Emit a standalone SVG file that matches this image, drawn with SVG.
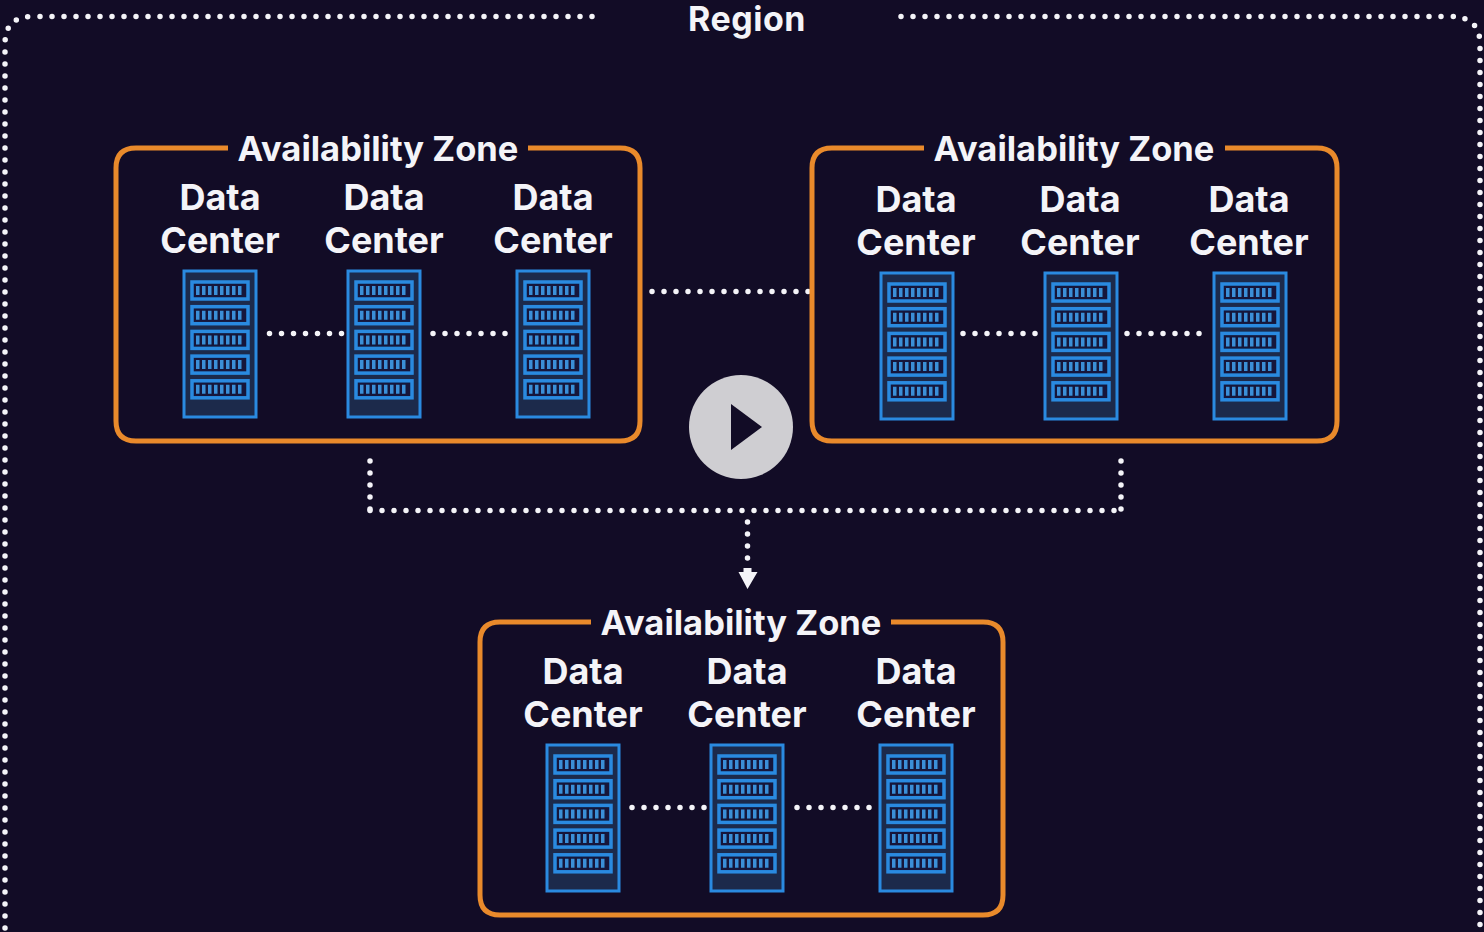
<svg xmlns="http://www.w3.org/2000/svg" width="1484" height="932" viewBox="0 0 1484 932">
<style>
.t{font-family:"Inter","Noto Sans",sans-serif;font-weight:700;fill:#f4f4f8;text-anchor:middle}
.az{font-size:34.500px}
.dc{font-size:36px}
.box{fill:none;stroke:#e98a2b;stroke-width:5;stroke-linecap:butt}
.dot{fill:none;stroke:#f4f4f8;stroke-width:5.500;stroke-linecap:round;stroke-dasharray:0 12}
.body{fill:#1a2a4c;stroke:#2a8ae0;stroke-width:3}
.slot{fill:#12183a;stroke:#2a8ae0;stroke-width:3.500}
.tick{fill:none;stroke:#3a8fd8;stroke-width:9;stroke-dasharray:3.500 2.500}
</style>
<defs>
<filter id="soft" x="-5%" y="-5%" width="110%" height="110%"><feGaussianBlur stdDeviation="0.5"/></filter>
<g id="rack" filter="url(#soft)">
<rect class="body" x="1" y="0" width="72" height="146"/>
<g id="s"><rect class="slot" x="9" y="11" width="56" height="17"/><path class="tick" d="M13 19.500H61"/></g>
<use href="#s" y="24.700"/><use href="#s" y="49.400"/><use href="#s" y="74.100"/><use href="#s" y="98.800"/>
</g>
</defs>
<rect width="1484" height="932" fill="#120c26"/>
<g id="connectors">
<path class="dot" d="M592 16.500H32Q5 16.500 5 44V932"/>
<path class="dot" d="M901 16.500H1450Q1480 16.500 1480 44V932"/>
<path class="dot" d="M269.500 333.500H345"/><path class="dot" d="M433 333.500H509"/>
<path class="dot" d="M963 333.500H1040"/><path class="dot" d="M1127 333.500H1204"/>
<path class="dot" d="M632 807.500H708"/><path class="dot" d="M797 807.500H874"/>
<path class="dot" d="M652 291.500H810"/>
<path class="dot" d="M370 461V510.500"/><path class="dot" d="M1121 461V510.500"/><path class="dot" d="M370 510.500H1125"/>
<path class="dot" d="M747.500 522V560"/>
<path d="M743.500 568H751.500V572H757.500L747.500 589L738.500 572H743.500Z" fill="#f4f4f8"/>
</g>
<g id="region"><text class="t" x="747" y="31" font-size="34" letter-spacing=".5">Region</text></g>
<g id="az1">
<path class="box" d="M228 148H136Q116 148 116 168V421Q116 441 136 441H620Q640 441 640 421V168Q640 148 620 148H528"/>
<text class="t az" x="378" y="161">Availability Zone</text>
<text class="t dc" x="220" y="210">Data</text><text class="t dc" x="220" y="253">Center</text>
<text class="t dc" x="384" y="210">Data</text><text class="t dc" x="384" y="253">Center</text>
<text class="t dc" x="553" y="210">Data</text><text class="t dc" x="553" y="253">Center</text>
<use href="#rack" x="183" y="271"/><use href="#rack" x="347" y="271"/><use href="#rack" x="516" y="271"/>
</g>
<g id="az2">
<path class="box" d="M924 148H832Q812 148 812 168V421Q812 441 832 441H1317Q1337 441 1337 421V168Q1337 148 1317 148H1225"/>
<text class="t az" x="1074" y="161">Availability Zone</text>
<text class="t dc" x="916" y="212">Data</text><text class="t dc" x="916" y="255">Center</text>
<text class="t dc" x="1080" y="212">Data</text><text class="t dc" x="1080" y="255">Center</text>
<text class="t dc" x="1249" y="212">Data</text><text class="t dc" x="1249" y="255">Center</text>
<use href="#rack" x="880" y="273"/><use href="#rack" x="1044" y="273"/><use href="#rack" x="1213" y="273"/>
</g>
<g id="az3">
<path class="box" d="M591 622H500Q480 622 480 642V895Q480 915 500 915H983Q1003 915 1003 895V642Q1003 622 983 622H891"/>
<text class="t az" x="741" y="635">Availability Zone</text>
<text class="t dc" x="583" y="684">Data</text><text class="t dc" x="583" y="727">Center</text>
<text class="t dc" x="747" y="684">Data</text><text class="t dc" x="747" y="727">Center</text>
<text class="t dc" x="916" y="684">Data</text><text class="t dc" x="916" y="727">Center</text>
<use href="#rack" x="546" y="745"/><use href="#rack" x="710" y="745"/><use href="#rack" x="879" y="745"/>
</g>
<g id="play">
<circle cx="741" cy="427" r="52" fill="#cfced2"/>
<path d="M731 404L762 427L731 450Z" fill="#120c26"/>
</g>
</svg>
